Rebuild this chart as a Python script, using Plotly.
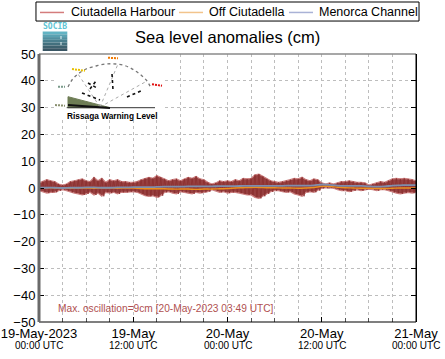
import plotly.graph_objects as go
import pandas as pd

# ---------------- data ----------------
t_half = pd.date_range("2023-05-19 00:00", "2023-05-21 00:00", freq="30min")
t_hour = pd.date_range("2023-05-19 00:00", "2023-05-21 00:00", freq="1h")

harbour_upper = [1.9, 2.4, 3.1, 2.7, 2.4, 1.5, 1.1, 1.5, 2.4, 2.7, 3.1, 3.4, 2.7, 2.4, 4.0, 2.7,
                 3.6, 2.1, 3.1, 2.7, 3.1, 2.4, 2.4, 2.1, 2.1, 2.4, 3.1, 3.6, 4.0, 3.6, 4.6, 4.0,
                 3.4, 2.7, 3.1, 3.4, 2.7, 3.4, 4.0, 3.6, 4.35, 3.4, 3.1, 2.1, 1.5, 1.9, 2.7, 2.4,
                 2.7, 2.4, 3.1, 2.7, 3.6, 3.4, 3.6, 4.9, 5.2, 4.35, 3.4, 2.7, 2.4, 2.1, 2.4, 2.7,
                 3.1, 3.6, 3.4, 4.0, 3.1, 2.7, 3.4, 3.1, 1.9, 1.5, 1.9, 1.5, 1.9, 2.4, 2.4, 2.7,
                 2.4, 2.1, 2.1, 1.9, 1.1, 1.5, 1.9, 2.4, 2.1, 2.7, 3.4, 3.6, 3.4, 3.6, 3.4, 3.1,
                 2.7]
harbour_lower = [-1.0, -1.4, -1.9, -1.6, -1.6, -1.0, -0.6, -1.0, -1.6, -1.9, -2.2, -2.6, -2.2, -1.6, -2.6, -1.9,
                 -3.1, -1.6, -1.9, -1.6, -2.2, -1.6, -1.6, -1.4, -1.4, -1.6, -2.2, -2.9, -3.1, -2.9, -3.5, -2.9,
                 -1.6, -1.4, -1.9, -2.2, -1.4, -1.6, -1.9, -2.2, -1.6, -1.9, -1.6, -1.4, -0.6, -1.0, -1.6, -1.4,
                 -1.9, -1.6, -1.6, -1.9, -2.2, -2.6, -2.6, -3.5, -3.9, -3.1, -2.2, -1.4, -1.0, -1.0, -1.4, -1.6,
                 -1.4, -2.2, -2.6, -3.1, -1.6, -1.4, -1.6, -1.0, -0.1, 0.1, 0.1, -0.1, -0.6, -1.0, -1.0, -1.4,
                 -1.0, -0.6, -1.0, -0.6, -0.4, -0.6, -1.0, -0.6, -0.6, -1.0, -1.6, -1.9, -2.2, -1.9, -1.6, -1.9,
                 -1.6]
off_ciutadella = [0.0, 0.1, 0.0, 0.0, -0.1, 0.0, 0.0, -0.1, 0.0, 0.0, -0.1, 0.0, 0.0, -0.2, -0.3, -0.3,
                  -0.3, -0.4, -0.4, -0.4, -0.5, -0.4, -0.4, -0.3, -0.2, 0.0, 0.1, 0.2, 0.2, 0.1, 0.1, 0.0,
                  0.0, -0.1, 0.0, 0.2, 0.6, 0.6, 0.3, 0.1, 0.0, -0.1, -0.1, -0.2, -0.2, -0.1, 0.0, 0.0,
                  0.0]
menorca_channel = [0.1, 0.1, 0.1, 0.0, 0.1, 0.1, 0.2, 0.2, 0.1, 0.1, 0.2, 0.2, 0.3, 0.3, 0.3, 0.4,
                   0.5, 0.5, 0.5, 0.6, 0.6, 0.6, 0.6, 0.7, 0.7, 0.7, 0.8, 0.8, 0.8, 0.8, 0.8, 0.8,
                   0.9, 0.9, 0.9, 1.0, 1.3, 1.2, 0.9, 0.8, 0.8, 0.8, 0.6, 0.5, 0.6, 0.9, 1.0, 1.1,
                   1.1]

y_ticks = list(range(-50, 51, 10))
x_tickvals = ["2023-05-19 00:00", "2023-05-19 12:00", "2023-05-20 00:00", "2023-05-20 12:00", "2023-05-21 00:00"]
x_line1 = ["19-May-2023", "19-May", "20-May", "20-May", "21-May"]
x_line2 = ["00:00 UTC", "12:00 UTC", "00:00 UTC", "12:00 UTC", "00:00 UTC"]
series_names = ["Ciutadella Harbour", "Off Ciutadella", "Menorca Channel"]
legend_colors = ["#d47c7c", "#f2c48c", "#a9b2d6"]
max_text = "Max. oscillation=9cm [20-May-2023 03:49 UTC]"

# inset "Rissaga Warning Level" gauge graphic (inset coordinates)
arc_x = [13, 17, 23, 31, 41, 51, 61, 71, 79, 86, 92, 96]
arc_y = [33, 40, 46, 51, 54, 56, 56, 54, 50, 45, 39, 32]
black_segs = [((33, 42), (37, 32)), ((35, 41), (31, 39)), ((27, 45), (27, 20)),
              ((57, 58), (46, 30)), ((72, 88), (23, 30))]
gray_segs = [((45, 23), (13, 46)), ((45, 63), (13, 56)), ((45, 92), (13, 39))]
label_segs = [((3, 10), (33.3, 33.3), "#7a9a8a"), ((0, 10), (15, 14.3), "#8a9070"),
              ((17, 30), (51, 49.3), "#e8c000"), ((53, 63), (62.3, 61.7), "#f07800"),
              ((97, 107), (35.7, 34.3), "#e01010")]
tri_x = [13, 13, 55, 13]
tri_y = [23.3, 12.3, 12.3, 23.3]

FONT = "Liberation Sans, Arial, Helvetica, sans-serif"

# ---------------- figure ----------------
fig = go.Figure()

# harbour: zigzag between envelopes
zz_x, zz_y = [], []
for i in range(len(t_half)):
    zz_x.append(t_half[i]); zz_y.append(harbour_upper[i])
    zz_x.append(t_half[i] + pd.Timedelta(minutes=15)); zz_y.append(harbour_lower[i])
zz_x = zz_x[:-1]; zz_y = zz_y[:-1]

fig.add_trace(go.Scatter(x=list(t_half), y=harbour_upper, mode="lines",
                         line=dict(color="#cc8080", width=1.2), showlegend=False, hoverinfo="skip"))
fig.add_trace(go.Scatter(x=list(t_half), y=harbour_lower, mode="lines", fill="tonexty",
                         fillcolor="rgba(142,48,48,0.92)",
                         line=dict(color="#cc8080", width=1.2), showlegend=False, hoverinfo="skip"))
fig.add_trace(go.Scatter(x=zz_x, y=zz_y, mode="lines", name=series_names[0],
                         line=dict(color="#8a2e2e", width=0.8), showlegend=False))
fig.add_trace(go.Scatter(x=list(t_hour), y=off_ciutadella, mode="lines", name=series_names[1],
                         line=dict(color="#ea8f1f", width=1.4, shape="spline"), showlegend=False))
fig.add_trace(go.Scatter(x=list(t_hour), y=menorca_channel, mode="lines", name=series_names[2],
                         line=dict(color="#7f8eac", width=1.8, shape="spline"), showlegend=False))

# inset traces
ins = dict(xaxis="x2", yaxis="y2", showlegend=False, hoverinfo="skip")
fig.add_trace(go.Scatter(x=tri_x, y=tri_y, mode="lines", fill="toself", fillcolor="#6e7d55",
                         line=dict(color="#6e7d55", width=1), **ins))
fig.add_trace(go.Scatter(x=arc_x, y=arc_y, mode="lines",
                         line=dict(color="#777777", width=1.3, dash="dot", shape="spline"), **ins))
for sx, sy in gray_segs:
    fig.add_trace(go.Scatter(x=list(sx), y=list(sy), mode="lines",
                             line=dict(color="#aaaaaa", width=1, dash="dot"), **ins))
for sx, sy in black_segs:
    fig.add_trace(go.Scatter(x=list(sx), y=list(sy), mode="lines",
                             line=dict(color="#111111", width=1.6, dash="dot"), **ins))
for sx, sy, c in label_segs:
    fig.add_trace(go.Scatter(x=list(sx), y=list(sy), mode="lines",
                             line=dict(color=c, width=2, dash="2px,1px"), **ins))
fig.add_trace(go.Scatter(x=[11.7, 100], y=[12.3, 12.3], mode="lines",
                         line=dict(color="#333333", width=1), **ins))
fig.add_trace(go.Scatter(x=[13, 55], y=[15, 12], mode="lines",
                         line=dict(color="#111111", width=2), **ins))

shapes = []
# plot frame
shapes.append(dict(type="line", xref="paper", yref="paper", x0=0, x1=1, y0=1, y1=1,
                   line=dict(color="#8a8a8a", width=1.5)))
shapes.append(dict(type="line", xref="paper", yref="paper", x0=1, x1=1, y0=0, y1=1,
                   line=dict(color="#000000", width=1)))
shapes.append(dict(type="line", xref="paper", yref="paper", x0=0, x1=1, y0=0, y1=0,
                   line=dict(color="#000000", width=1.2)))
shapes.append(dict(type="line", xref="paper", yref="paper", x0=0, x1=0, y0=0, y1=1,
                   line=dict(color="#6a6a6a", width=3)))
# legend box
shapes.append(dict(type="rect", xref="paper", yref="paper", x0=-0.008, x1=1.008, y0=1.123, y1=1.194,
                   line=dict(color="#000000", width=1), fillcolor="white", layer="below"))
leg_x = [(0.0027, 0.0663), (0.3714, 0.435), (0.663, 0.7268)]
for (a, b), c in zip(leg_x, legend_colors):
    shapes.append(dict(type="line", xref="paper", yref="paper", x0=a, x1=b, y0=1.155, y1=1.155,
                       line=dict(color=c, width=1.5)))
# SOCIB logo bands
logo_cols = ["#62b4c4", "#5aa2b2", "#5190a0", "#4a7f8e", "#43707e", "#3e626f", "#3a5664"]
y_top, y_bot = (322 - 31.5) / 268, (322 - 51) / 268
step = (y_top - y_bot) / len(logo_cols)
for k, c in enumerate(logo_cols):
    shapes.append(dict(type="rect", xref="paper", yref="paper",
                       x0=(42.7 - 39) / 377, x1=(67.3 - 39) / 377,
                       y0=y_top - (k + 1) * step, y1=y_top - k * step,
                       line=dict(width=0), fillcolor=c))
shapes.append(dict(type="line", xref="paper", yref="paper", x0=(61 - 39) / 377, x1=(61 - 39) / 377,
                   y0=(322 - 45) / 268, y1=(322 - 33) / 268,
                   line=dict(color="#e8f4f6", width=1, dash="dot")))

annotations = []
annotations.append(dict(text="Sea level anomalies (cm)", xref="paper", yref="paper", x=0.4987, y=1.0634,
                        xanchor="center", yanchor="middle", showarrow=False,
                        font=dict(family=FONT, size=16.5, color="#000000")))
leg_tx = [0.0796, 0.4456, 0.7374]
for tx, name in zip(leg_tx, series_names):
    annotations.append(dict(text=name, xref="paper", yref="paper", x=tx, y=1.157,
                            xanchor="left", yanchor="middle", showarrow=False,
                            font=dict(family=FONT, size=12.5, color="#000000")))
annotations.append(dict(text="<b>SOCIB</b>", xref="paper", yref="paper", x=(55 - 39) / 377, y=(322 - 27) / 268,
                        xanchor="center", yanchor="middle", showarrow=False,
                        font=dict(family="DejaVu Sans Mono, monospace", size=8, color="#5ec4d4")))
annotations.append(dict(text=max_text, xref="paper", yref="paper", x=(56 - 39) / 377, y=(322 - 308.3) / 268,
                        xanchor="left", yanchor="middle", showarrow=False,
                        font=dict(family=FONT, size=10.2, color="#b05050")))
for tv, l2 in zip(x_tickvals, x_line2):
    annotations.append(dict(text=l2, xref="x", yref="paper", x=tv, y=(322 - 345) / 268,
                            xanchor="center", yanchor="middle", showarrow=False,
                            font=dict(family=FONT, size=10, color="#000000")))
annotations.append(dict(text="<b>Rissaga Warning Level</b>", xref="x2", yref="y2", x=57, y=4.5,
                        xanchor="center", yanchor="middle", showarrow=False,
                        font=dict(family=FONT, size=8.3, color="#000000")))

fig.update_layout(
    width=445, height=359,
    margin=dict(l=39, r=29, t=54, b=37, autoexpand=False),
    paper_bgcolor="white", plot_bgcolor="white",
    font=dict(family=FONT, size=13, color="#000000"),
    shapes=shapes, annotations=annotations,
    showlegend=False,
    xaxis=dict(type="date", range=["2023-05-19 00:00", "2023-05-21 00:00"],
               tickvals=x_tickvals, ticktext=x_line1, automargin=False,
               tickfont=dict(family=FONT, size=13), tickangle=0, ticklabelstandoff=2,
               ticks="inside", ticklen=5, tickcolor="#000000",
               showgrid=True, gridcolor="#bdbdbd", griddash="dot", gridwidth=1,
               minor=dict(dtick=3 * 3600 * 1000, ticks="inside", ticklen=4, tickcolor="#555555",
                          showgrid=True, gridcolor="#bdbdbd", griddash="dot", gridwidth=1),
               showline=False, zeroline=False, fixedrange=True),
    yaxis=dict(range=[-50, 50], tickvals=y_ticks, ticks="inside", ticklen=5, tickcolor="#000000",
               mirror="ticks", showline=True, linecolor="#000000", linewidth=1, automargin=False,
               tickfont=dict(family=FONT, size=13),
               showgrid=True, gridcolor="#bdbdbd", griddash="dot", gridwidth=1,
               zeroline=False, fixedrange=True),
    xaxis2=dict(domain=[(55 - 39) / 377, (165 - 39) / 377], range=[0, 110], anchor="y2",
                visible=False, fixedrange=True),
    yaxis2=dict(domain=[(322 - 120) / 268, 1.0], range=[0, 66], anchor="x2",
                visible=False, fixedrange=True),
)

fig.write_html("out.html", config={"displayModeBar": False},
               post_script="document.body.style.margin='0';document.body.style.overflow='hidden';")
